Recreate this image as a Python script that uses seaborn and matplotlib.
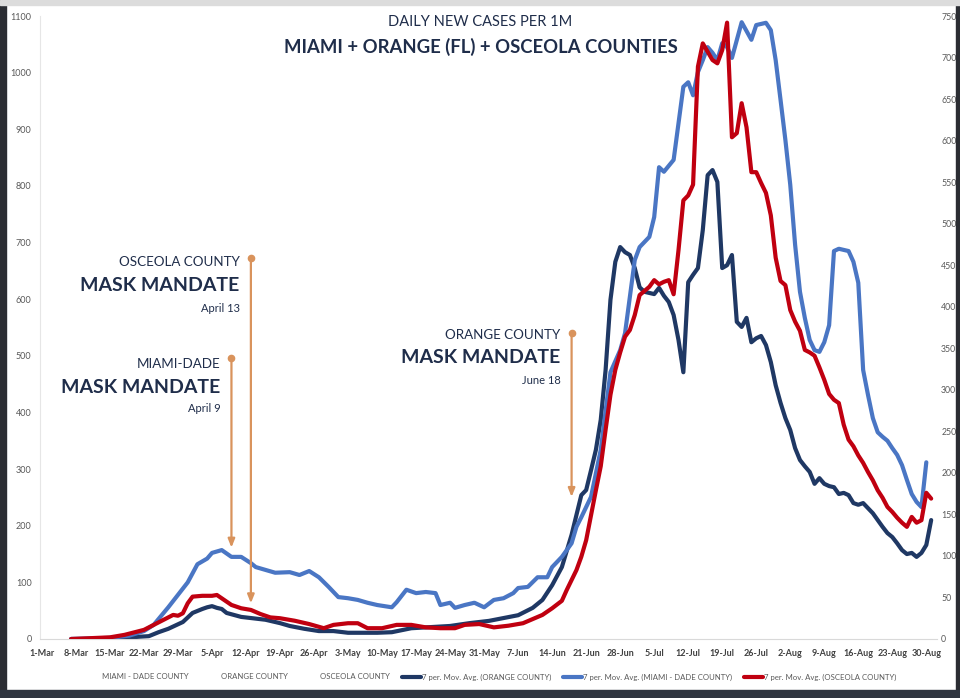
import numpy as np
import pandas as pd
import matplotlib
matplotlib.use("Agg")
import matplotlib.pyplot as plt
import matplotlib.dates as mdates
from matplotlib.lines import Line2D
from matplotlib.patches import Rectangle
import seaborn as sns

sns.set_style("white")
plt.rcParams["font.family"] = ["Lato", "DejaVu Sans"]

# 7-day moving averages, daily new cases per 1M
# Orange County and Miami-Dade use the left axis, Osceola the right axis
orange_dates = ["03-07", "03-15", "03-21", "03-23", "03-25", "03-27", "03-29", "03-30",
                "04-01", "04-03", "04-04", "04-05", "04-06", "04-07", "04-08", "04-11",
                "04-13", "04-16", "04-19", "04-21", "04-24", "04-27", "04-30", "05-03",
                "05-06", "05-09", "05-12", "05-16", "05-20", "05-24", "05-28", "06-01",
                "06-04", "06-07", "06-10", "06-12", "06-14", "06-16", "06-18", "06-19",
                "06-20", "06-21", "06-22", "06-23", "06-24", "06-25", "06-26", "06-27",
                "06-28", "06-29", "06-30", "07-01", "07-02", "07-03", "07-04", "07-05",
                "07-06", "07-07", "07-08", "07-09", "07-10", "07-11", "07-12", "07-13",
                "07-14", "07-15", "07-16", "07-17", "07-18", "07-19", "07-20", "07-21",
                "07-22", "07-23", "07-24", "07-25", "07-26", "07-27", "07-28", "07-29",
                "07-30", "07-31", "08-01", "08-02", "08-03", "08-04", "08-05", "08-06",
                "08-07", "08-08", "08-09", "08-10", "08-11", "08-12", "08-13", "08-14",
                "08-15", "08-16", "08-17", "08-18", "08-19", "08-20", "08-21", "08-22",
                "08-23", "08-24", "08-25", "08-26", "08-27", "08-28", "08-29", "08-30",
                "08-31"]
orange_avg = [0, 0, 4, 5, 12, 18, 26, 30,
              46, 53, 56, 58, 55, 53, 46, 39,
              37, 34, 28, 23, 18, 14, 14, 11,
              11, 11, 12, 19, 21, 23, 28, 32,
              37, 42, 55, 69, 95, 127, 184, 219,
              254, 263, 298, 334, 387, 475, 599, 666,
              692, 683, 678, 655, 621, 613, 611, 609,
              620, 606, 595, 572, 528, 471, 630, 643,
              655, 722, 819, 828, 807, 655, 660, 678,
              560, 551, 567, 524, 531, 535, 519, 489,
              448, 417, 390, 369, 337, 316, 305, 295,
              274, 284, 274, 270, 268, 256, 258, 254,
              240, 237, 240, 231, 222, 210, 198, 187,
              180, 169, 157, 150, 152, 145, 152, 166,
              210]

miami_dates = ["03-07", "03-15", "03-19", "03-22", "03-24", "03-27", "03-29", "03-31",
               "04-02", "04-04", "04-05", "04-07", "04-09", "04-11", "04-13", "04-14",
               "04-16", "04-18", "04-21", "04-23", "04-25", "04-27", "04-29", "05-01",
               "05-03", "05-05", "05-07", "05-09", "05-12", "05-13", "05-15", "05-17",
               "05-19", "05-21", "05-22", "05-24", "05-25", "05-27", "05-29", "05-31",
               "06-02", "06-04", "06-06", "06-07", "06-09", "06-11", "06-13", "06-14",
               "06-16", "06-18", "06-19", "06-20", "06-22", "06-24", "06-26", "06-28",
               "06-29", "07-01", "07-02", "07-04", "07-05", "07-06", "07-07", "07-09",
               "07-11", "07-12", "07-13", "07-14", "07-15", "07-16", "07-17", "07-18",
               "07-19", "07-20", "07-21", "07-23", "07-25", "07-26", "07-28", "07-29",
               "07-30", "07-31", "08-01", "08-02", "08-03", "08-04", "08-05", "08-06",
               "08-07", "08-08", "08-09", "08-10", "08-11", "08-12", "08-14", "08-15",
               "08-16", "08-17", "08-18", "08-19", "08-20", "08-21", "08-22", "08-23",
               "08-24", "08-25", "08-26", "08-27", "08-28", "08-29", "08-30"]
miami_avg = [0, 2, 6, 14, 25, 56, 78, 100,
             132, 142, 152, 157, 145, 145, 134, 127,
             122, 117, 118, 113, 120, 109, 92, 74,
             72, 69, 64, 60, 56, 65, 87, 81,
             83, 81, 60, 64, 55, 60, 64, 56,
             69, 72, 81, 90, 92, 109, 109, 127,
             145, 169, 198, 215, 251, 334, 471, 510,
             540, 669, 692, 710, 745, 833, 825, 846,
             975, 983, 960, 1001, 1022, 1045, 1035, 1022,
             1052, 1045, 1026, 1089, 1058, 1084, 1088, 1075,
             1022, 952, 881, 802, 696, 613, 567, 528,
             510, 507, 524, 554, 685, 689, 685, 666,
             629, 475, 431, 390, 365, 357, 350, 337,
             325, 307, 281, 256, 242, 233, 312]

osceola_dates = ["03-07", "03-15", "03-18", "03-22", "03-25", "03-28", "03-29", "03-30",
                 "03-31", "04-01", "04-03", "04-05", "04-06", "04-07", "04-08", "04-09",
                 "04-11", "04-13", "04-15", "04-17", "04-19", "04-22", "04-25", "04-28",
                 "04-30", "05-03", "05-05", "05-07", "05-10", "05-13", "05-16", "05-19",
                 "05-22", "05-25", "05-27", "05-30", "06-02", "06-05", "06-08", "06-10",
                 "06-12", "06-14", "06-16", "06-17", "06-18", "06-19", "06-20", "06-21",
                 "06-22", "06-23", "06-24", "06-25", "06-26", "06-27", "06-28", "06-29",
                 "06-30", "07-01", "07-02", "07-03", "07-04", "07-05", "07-06", "07-07",
                 "07-08", "07-09", "07-10", "07-11", "07-12", "07-13", "07-14", "07-15",
                 "07-16", "07-17", "07-18", "07-19", "07-20", "07-21", "07-22", "07-23",
                 "07-24", "07-25", "07-26", "07-27", "07-28", "07-29", "07-30", "07-31",
                 "08-01", "08-02", "08-03", "08-04", "08-05", "08-06", "08-07", "08-08",
                 "08-09", "08-10", "08-11", "08-12", "08-13", "08-14", "08-15", "08-16",
                 "08-17", "08-18", "08-19", "08-20", "08-21", "08-22", "08-23", "08-24",
                 "08-25", "08-26", "08-27", "08-28", "08-29", "08-30", "08-31"]
osceola_avg = [0, 2, 5, 11, 20, 29, 28, 31,
               43, 51, 52, 52, 53, 49, 45, 41,
               37, 35, 30, 26, 25, 22, 18, 13,
               17, 19, 19, 13, 13, 17, 17, 14,
               13, 13, 17, 18, 14, 16, 19, 24,
               29, 37, 46, 59, 71, 83, 99, 119,
               149, 179, 208, 252, 294, 324, 345, 364,
               372, 390, 414, 419, 424, 432, 427, 430,
               432, 415, 468, 528, 534, 547, 689, 717,
               707, 697, 693, 709, 742, 604, 609, 645,
               616, 562, 562, 549, 537, 510, 459, 431,
               426, 396, 382, 371, 348, 345, 341, 327,
               312, 295, 288, 284, 258, 240, 232, 221,
               212, 201, 191, 179, 170, 159, 153, 146,
               140, 135, 147, 140, 143, 176, 169]

legend_labels = ["MIAMI - DADE COUNTY", "ORANGE COUNTY", "OSCEOLA COUNTY",
                 "7 per. Mov. Avg. (ORANGE COUNTY)",
                 "7 per. Mov. Avg. (MIAMI - DADE COUNTY)",
                 "7 per. Mov. Avg. (OSCEOLA COUNTY)"]

NAVY = "#1F3864"
BLUE = "#4A76C4"
RED = "#C00010"
ARROW = "#D9935C"
TEXT = "#1F2D4A"
GRAY = "#595959"


def to_frame(dates, values):
    return pd.DataFrame({"date": pd.to_datetime(["2020-" + d for d in dates]),
                         "value": values})


orange_df = to_frame(orange_dates, orange_avg)
miami_df = to_frame(miami_dates, miami_avg)
osceola_df = to_frame(osceola_dates, osceola_avg)

fig = plt.figure(figsize=(9.6, 6.98), dpi=100)
ax = fig.add_axes([40 / 960, 1 - 639 / 698, 897 / 960, 623 / 698])
ax2 = ax.twinx()

line_kw = dict(linewidth=3, solid_joinstyle="round", solid_capstyle="round")
sns.lineplot(data=orange_df, x="date", y="value", ax=ax, color=NAVY, **line_kw)
sns.lineplot(data=miami_df, x="date", y="value", ax=ax, color=BLUE, **line_kw)
sns.lineplot(data=osceola_df, x="date", y="value", ax=ax2, color=RED, **line_kw)

start = mdates.date2num(pd.Timestamp("2020-03-01"))
ax.set_xlim(start - 0.4, start + 184.2)
ax.set_ylim(0, 1100)
ax2.set_ylim(0, 750)
ax.set_yticks(range(0, 1101, 100))
ax2.set_yticks(range(0, 751, 50))
week_ticks = pd.date_range("2020-03-01", "2020-08-30", freq="7D")
ax.set_xticks(week_ticks)
ax.set_xticklabels([f"{d.day}-{d:%b}" for d in week_ticks])

for a in (ax, ax2):
    a.set_xlabel("")
    a.set_ylabel("")
    for s in a.spines.values():
        s.set_visible(False)
ax.spines["bottom"].set_visible(True)
ax.spines["left"].set_visible(True)
ax.spines["bottom"].set_color("#D9D9D9")
ax.spines["left"].set_color("#E6E6E6")

ax.tick_params(axis="y", length=0, labelsize=6.5, labelcolor=GRAY, pad=6)
ax2.tick_params(axis="y", length=0, labelsize=6.3, labelcolor=GRAY, pad=3)
ax.tick_params(axis="x", length=3, color="#D9D9D9", labelsize=6.5,
               labelcolor="#404040", pad=4)
for lab in ax.get_xticklabels():
    lab.set_fontweight("bold")

# titles
fig.text(480 / 960, 1 - 22 / 698, "DAILY NEW CASES PER 1M", ha="center", va="center",
         fontsize=10.5, color=TEXT)
fig.text(481 / 960, 1 - 47 / 698, "MIAMI + ORANGE (FL) + OSCEOLA COUNTIES",
         ha="center", va="center", fontsize=13.3, fontweight="bold", color=TEXT)

# mask mandate annotations (on the right-axis scale)
notes = [("2020-04-13", 459, 43, "OSCEOLA COUNTY", "April 13", (454, 425, 398)),
         ("2020-04-09", 338, 110, "MIAMI-DADE", "April 9", (331, 303, 277)),
         ("2020-06-18", 368, 171, "ORANGE COUNTY", "June 18", (366, 339, 311))]
for day, top, bottom, county, when, ys in notes:
    x = mdates.date2num(pd.Timestamp(day))
    ax2.annotate("", xy=(x, bottom), xytext=(x, top),
                 arrowprops=dict(arrowstyle="-|>,head_length=0.5,head_width=0.2",
                                 color=ARROW, lw=1.6, shrinkA=0, shrinkB=0))
    ax2.plot([x], [top], "o", color=ARROW, markersize=4.5)
    tx = x - 2.3
    ax2.text(tx, ys[0], county, ha="right", va="center", fontsize=9.6, color=TEXT)
    ax2.text(tx, ys[1], "MASK MANDATE", ha="right", va="center", fontsize=14,
             fontweight="bold", color=TEXT)
    ax2.text(tx, ys[2], when, ha="right", va="center", fontsize=8, color=TEXT)

# legend
handles = [Line2D([], [], color="none")] * 3 + [
    Line2D([], [], color=NAVY, linewidth=3),
    Line2D([], [], color=BLUE, linewidth=3),
    Line2D([], [], color=RED, linewidth=3)]
fig.legend(handles, legend_labels, loc="center", bbox_to_anchor=(0.51, 1 - 677 / 698),
           ncol=6, frameon=False, fontsize=5.6, labelcolor=GRAY, handlelength=2.4,
           handletextpad=0.1, columnspacing=1.6)

# screenshot frame
frame = [((0, 0), 6 / 960, 1, "#2B2D33"),
         ((956 / 960, 0), 4 / 960, 1, "#2B2D33"),
         ((0, 0), 1, 8 / 698, "#2F3540"),
         ((0, 1 - 5 / 698), 1, 5 / 698, "#DCDCDC")]
for xy, w, h, c in frame:
    fig.add_artist(Rectangle(xy, w, h, transform=fig.transFigure, color=c, zorder=10))

fig.savefig("out.png", dpi=100)
